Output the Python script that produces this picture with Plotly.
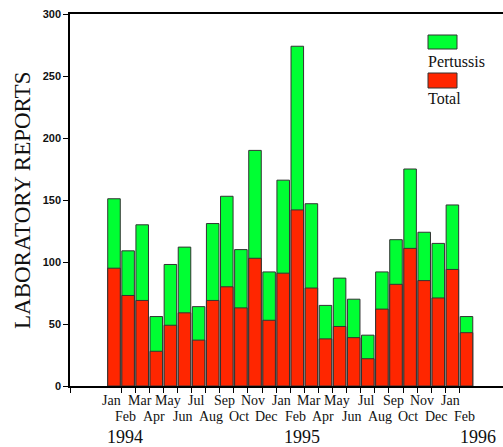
import plotly.graph_objects as go

months = ["Jan", "Feb", "Mar", "Apr", "May", "Jun", "Jul", "Aug", "Sep", "Oct", "Nov", "Dec",
          "Jan", "Feb", "Mar", "Apr", "May", "Jun", "Jul", "Aug", "Sep", "Oct", "Nov", "Dec",
          "Jan", "Feb"]
# top of the stacked bar (green top)
upper_vals = [151, 109, 130, 56, 98, 112, 64, 131, 153, 110, 190, 92,
              166, 274, 147, 65, 87, 70, 41, 92, 118, 175, 124, 115, 146, 56]
# red (lower) segment
lower_vals = [95, 73, 69, 28, 49, 59, 37, 69, 80, 63, 103, 53,
              91, 142, 79, 38, 48, 39, 22, 62, 82, 111, 85, 71, 94, 43]
years = ["1994", "1995", "1996"]
year_pos = [0.8, 13.3, 25.8]
yticks = [0, 50, 100, 150, 200, 250, 300]

GREEN = "#00ff33"
RED = "#ff2600"
EDGE = "#333333"

W, H = 503, 447
ML, MR, MT, MB = 70, 0, 14, 61
PW, PH = W - ML - MR, H - MT - MB

def px(x):
    return (x - ML) / PW

def py(y):
    return (H - MB - y) / PH

xs = list(range(len(months)))

fig = go.Figure()
fig.add_trace(go.Bar(x=xs, y=upper_vals, name="Pertussis", width=0.89,
                     marker=dict(color=GREEN, line=dict(color=EDGE, width=1))))
fig.add_trace(go.Bar(x=xs, y=lower_vals, name="Total", width=0.89,
                     marker=dict(color=RED, line=dict(color=EDGE, width=1))))

serif = "Liberation Serif, Times New Roman, serif"
annotations = []
for i, m in enumerate(months):
    annotations.append(dict(x=i - 0.15, y=py(400) if i % 2 == 0 else py(416), xref="x", yref="paper",
                            text=m, showarrow=False, font=dict(family=serif, size=14, color="#111"),
                            xanchor="center", yanchor="middle"))
for yr, xp in zip(years, year_pos):
    annotations.append(dict(x=xp, y=py(437), xref="x", yref="paper", text=yr, showarrow=False,
                            font=dict(family=serif, size=18, color="#111"),
                            xanchor="center", yanchor="middle"))
annotations.append(dict(x=px(22), y=py(201), xref="paper", yref="paper", text="LABORATORY REPORTS",
                        textangle=-90, showarrow=False, font=dict(family=serif, size=23, color="#111"),
                        xanchor="center", yanchor="middle"))
# legend texts
annotations.append(dict(x=px(426), y=py(61), xref="paper", yref="paper", text="Pertussis",
                        showarrow=False, font=dict(family=serif, size=16, color="#111"),
                        xanchor="left", yanchor="middle"))
annotations.append(dict(x=px(426), y=py(98), xref="paper", yref="paper", text="Total",
                        showarrow=False, font=dict(family=serif, size=16, color="#111"),
                        xanchor="left", yanchor="middle"))

shapes = [
    dict(type="rect", xref="paper", yref="paper", x0=px(428), x1=px(457), y0=py(49), y1=py(35),
         fillcolor=GREEN, line=dict(color=EDGE, width=1)),
    dict(type="rect", xref="paper", yref="paper", x0=px(428), x1=px(457), y0=py(88), y1=py(73),
         fillcolor=RED, line=dict(color=EDGE, width=1)),
]

x0 = -(114 - ML) / 14.1
x1 = x0 + PW / 14.1
fig.update_layout(
    width=W, height=H, margin=dict(l=ML, r=MR, t=MT, b=MB),
    paper_bgcolor="white", plot_bgcolor="white", barmode="overlay",
    showlegend=False, annotations=annotations, shapes=shapes,
    xaxis=dict(range=[x0, x1], tickvals=[x0] + [i + 0.5 for i in range(len(months) - 1)],
               ticktext=[""] * len(months), ticks="outside", ticklen=5, tickcolor="black",
               showline=True, linecolor="black", linewidth=1.5, mirror=True, showgrid=False,
               zeroline=False),
    yaxis=dict(range=[0, 300], tickvals=yticks, ticks="outside", ticklen=5, tickcolor="black",
               showline=True, linecolor="black", linewidth=1.5, showgrid=False, zeroline=False,
               tickfont=dict(family="Liberation Sans Narrow, Arial Narrow, Liberation Sans, Arial", size=11,
                             color="#111", weight="bold")),
)
fig.write_html("out.html", config={"displayModeBar": False},
               post_script="document.body.style.margin='0';document.body.style.overflow='hidden';")
